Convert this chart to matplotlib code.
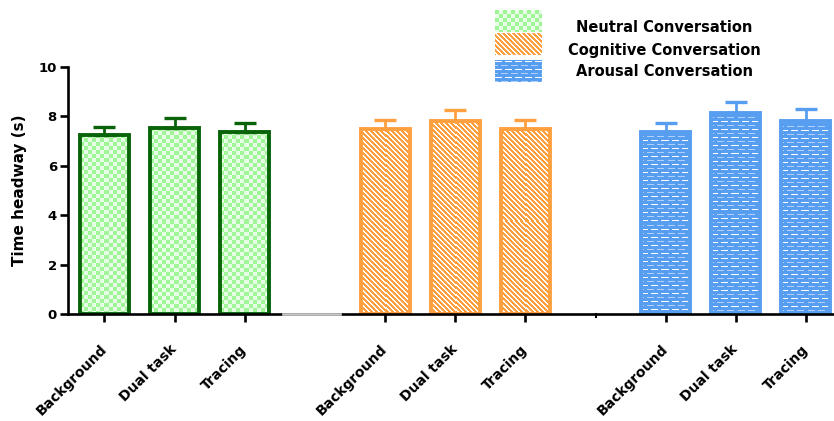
import numpy as np
import matplotlib
matplotlib.use("Agg")
import matplotlib.pyplot as plt

# mean time headway (s) and upper error per condition
conditions = ["Background", "Dual task", "Tracing"]
groups = ["Neutral Conversation", "Cognitive Conversation", "Arousal Conversation"]
neutral_mean = [7.25, 7.55, 7.38]
neutral_err = [0.33, 0.37, 0.37]
cognitive_mean = [7.48, 7.81, 7.50]
cognitive_err = [0.37, 0.45, 0.35]
arousal_mean = [7.38, 8.15, 7.80]
arousal_err = [0.37, 0.42, 0.50]
yticks = [0, 2, 4, 6, 8, 10]

means = [neutral_mean, cognitive_mean, arousal_mean]
errs = [neutral_err, cognitive_err, arousal_err]
group_start = [0, 4, 8]

GREEN_LIGHT = np.array([160, 245, 150]) / 255
GREEN_PALE = np.array([232, 253, 230]) / 255
GREEN_EDGE = "#096409"
ORANGE = np.array([255, 160, 64]) / 255
BLUE = np.array([88, 158, 240]) / 255
BLUE_LIGHT = np.array([175, 208, 250]) / 255
WHITE = np.array([1.0, 1.0, 1.0])


def texture(kind, h, w):
    h = max(h, 1)
    w = max(w, 1)
    yy, xx = np.mgrid[0:h, 0:w]
    if kind == 0:
        m = ((yy // 4) + (xx // 4)) % 2 == 0
        return np.where(m[..., None], GREEN_LIGHT, GREEN_PALE)
    if kind == 1:
        m = ((xx - yy) % 5) < 2
        return np.where(m[..., None], WHITE, ORANGE)
    img = np.ones((h, w, 3)) * BLUE
    line = (yy % 4) == 1
    row = yy // 4
    shift = (row % 2) * 4
    dash = ((xx + shift) % 10) < 7
    on = line & dash
    col = np.where((row % 2 == 0)[..., None], WHITE, BLUE_LIGHT)
    img[on] = col[on]
    return img


edge_colors = [GREEN_EDGE, ORANGE, BLUE]

fig = plt.figure(figsize=(8.34, 4.21), dpi=100)
ax = fig.add_axes([68 / 834, 1 - 314 / 421, 1 - 68 / 834, 247 / 421])
ax.set_xlim(-0.52, 10.4)
ax.set_ylim(0, 10)

width = 0.7
positions = []
for g in range(3):
    for i in range(3):
        x = group_start[g] + i
        positions.append(x)
        val = means[g][i]
        p0 = ax.transData.transform((x - width / 2, 0))
        p1 = ax.transData.transform((x + width / 2, val))
        hpx = int(round(p1[1] - p0[1]))
        wpx = int(round(p1[0] - p0[0]))
        ax.imshow(texture(g, hpx, wpx), extent=(x - width / 2, x + width / 2, 0, val),
                  aspect="auto", interpolation="nearest", zorder=1)
        ax.bar(x, val, width=width, facecolor="none", edgecolor=edge_colors[g],
               linewidth=2.8, zorder=2)
        ax.errorbar(x, val, yerr=[[0], [errs[g][i]]], color=edge_colors[g],
                    elinewidth=2.0, capsize=8, capthick=2.4, zorder=1.5)

ax.set_xlim(-0.52, 10.4)
ax.set_ylim(0, 10)

for side in ["top", "right"]:
    ax.spines[side].set_visible(False)
ax.spines["left"].set_linewidth(1.9)
ax.spines["bottom"].set_linewidth(1.9)

# broken stretch of the baseline between groups
ax.plot([2.54, 3.36], [0, 0], color="#c8c8c8", lw=1.9, zorder=3, clip_on=False)
ax.plot([7, 7], [0, -0.12], color="black", lw=1.5, zorder=3, clip_on=False)

ax.set_yticks(yticks)
ax.set_yticklabels([str(t) for t in yticks], fontweight="bold", fontsize=9.5)
ax.tick_params(axis="y", length=6, width=1.9, pad=2)

ax.set_xticks(positions)
ax.set_xticklabels(conditions * 3, rotation=45, ha="right", va="center",
                   rotation_mode="anchor", fontweight="bold", fontsize=10)
ax.tick_params(axis="x", length=6, width=1.9, pad=18)

ax.set_ylabel("Time headway (s)", fontweight="bold", fontsize=11, labelpad=8)

# legend swatches with the same fills as the bars
rows = [(10, 32, 28), (33, 55, 50), (60, 82, 72)]
for g, (top, bottom, ty) in enumerate(rows):
    lax = fig.add_axes([495 / 834, 1 - bottom / 421, 47 / 834, (bottom - top) / 421])
    lax.imshow(texture(g, bottom - top, 47), aspect="auto", interpolation="nearest")
    lax.axis("off")
    fig.text(664 / 834, 1 - ty / 421, groups[g], ha="center", va="center",
             fontweight="bold", fontsize=10.5)

fig.savefig("out.png", dpi=100)
